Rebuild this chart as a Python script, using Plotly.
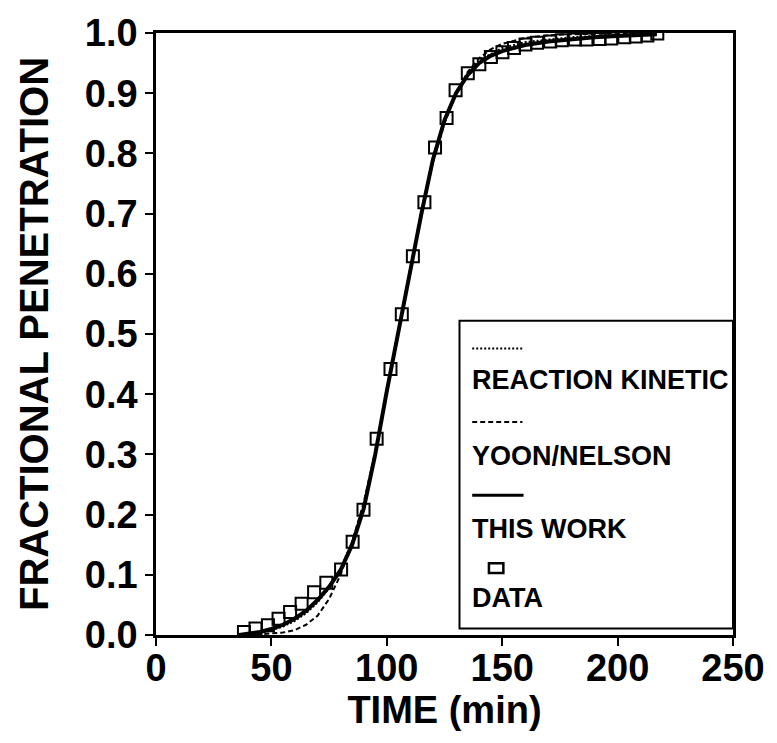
import plotly.graph_objects as go

# ---- data ----
data_t = [38.1, 43.1, 48.5, 53.1, 58.1, 63.1, 68.5, 73.8, 80.2, 85.2, 89.9, 95.6,
          101.6, 106.5, 111.3, 116.3, 120.9, 125.9, 129.8, 135.1, 140.1, 145.1,
          150.1, 155.1, 160.1, 165.1, 170.8, 175.8, 181.5, 186.5, 192.2, 197.2,
          202.9, 207.9, 212.9, 217.2]
data_p = [0.005, 0.011, 0.016, 0.027, 0.038, 0.052, 0.071, 0.087, 0.109, 0.155, 0.208, 0.326,
          0.442, 0.533, 0.629, 0.719, 0.810, 0.859, 0.905, 0.933, 0.948, 0.960,
          0.968, 0.975, 0.981, 0.984, 0.986, 0.988, 0.989, 0.989, 0.990, 0.991,
          0.993, 0.994, 0.996, 0.999]

this_t = [36, 40, 45, 50, 55, 60, 65, 70, 75, 80, 85, 90, 95, 100, 105, 110, 115,
          120, 125, 130, 135, 140, 145, 150, 160, 170, 180, 190, 200, 210, 217]
this_p = [0.000, 0.002, 0.005, 0.010, 0.017, 0.027, 0.040, 0.058, 0.080, 0.108, 0.150,
          0.210, 0.300, 0.405, 0.505, 0.605, 0.700, 0.790, 0.855, 0.900, 0.930, 0.950,
          0.962, 0.970, 0.980, 0.986, 0.990, 0.993, 0.995, 0.997, 0.998]

yoon_t = [40, 45, 50, 55, 60, 65, 70, 75, 80, 85, 90, 95, 100, 105, 110, 115, 120,
          125, 130, 135, 140, 145, 150, 160, 170, 180, 200, 217]
yoon_p = [0.000, 0.001, 0.002, 0.004, 0.008, 0.017, 0.032, 0.060, 0.100, 0.155, 0.220,
          0.305, 0.405, 0.505, 0.605, 0.700, 0.785, 0.850, 0.900, 0.935, 0.958, 0.973,
          0.982, 0.992, 0.996, 0.998, 0.999, 1.000]

rk_t = [38, 45, 50, 55, 60, 65, 70, 75, 80, 85, 90, 95, 100, 105, 110, 115, 120,
        125, 130, 135, 140, 150, 160, 180, 200, 217]
rk_p = [0.001, 0.004, 0.008, 0.014, 0.023, 0.036, 0.054, 0.078, 0.110, 0.155, 0.215,
        0.300, 0.405, 0.505, 0.605, 0.700, 0.790, 0.855, 0.900, 0.932, 0.955, 0.975,
        0.985, 0.993, 0.997, 0.999]

x_ticks = [0, 50, 100, 150, 200, 250]
y_ticks = [0.0, 0.1, 0.2, 0.3, 0.4, 0.5, 0.6, 0.7, 0.8, 0.9, 1.0]
legend_labels = ["REACTION KINETIC", "YOON/NELSON", "THIS WORK", "DATA"]

FONT = "Liberation Sans, Arial, sans-serif"
DASH = "5px,3px"
DOT = "2px,2px"

fig = go.Figure()
fig.add_trace(go.Scatter(x=rk_t, y=rk_p, mode="lines",
                         line=dict(color="black", width=2, dash=DOT),
                         name=legend_labels[0], showlegend=False))
fig.add_trace(go.Scatter(x=yoon_t, y=yoon_p, mode="lines",
                         line=dict(color="black", width=2, dash=DASH),
                         name=legend_labels[1], showlegend=False))
fig.add_trace(go.Scatter(x=this_t, y=this_p, mode="lines",
                         line=dict(color="black", width=4),
                         name=legend_labels[2], showlegend=False))
fig.add_trace(go.Scatter(x=data_t, y=data_p, mode="markers",
                         marker=dict(symbol="square-open", size=12, color="black",
                                     line=dict(width=2, color="black")),
                         name=legend_labels[3], showlegend=False))

# ---- custom legend box (symbol above text, as in the reference) ----
shapes = [
    dict(type="rect", xref="paper", yref="paper", x0=0.526, x1=1.0, y0=0.011, y1=0.522,
         line=dict(color="black", width=2), fillcolor="white", layer="above"),
    dict(type="line", xref="paper", yref="paper", x0=0.548, x1=0.635, y0=0.476, y1=0.476,
         line=dict(color="black", width=2, dash=DOT)),
    dict(type="line", xref="paper", yref="paper", x0=0.548, x1=0.635, y0=0.354, y1=0.354,
         line=dict(color="black", width=2, dash=DASH)),
    dict(type="line", xref="paper", yref="paper", x0=0.548, x1=0.637, y0=0.232, y1=0.232,
         line=dict(color="black", width=3)),
    dict(type="rect", xref="paper", yref="paper", x0=0.577, x1=0.602, y0=0.103, y1=0.119,
         line=dict(color="black", width=2.5)),
]
label_y = [0.424, 0.297, 0.176, 0.062]
annotations = []
for lab, yy in zip(legend_labels, label_y):
    annotations.append(dict(text=lab, xref="paper", yref="paper", x=0.545, y=yy,
                            xanchor="left", yanchor="middle", showarrow=False,
                            font=dict(family=FONT, size=27, color="black", weight="bold")))

fig.update_layout(
    width=777, height=743,
    margin=dict(l=156, r=37, t=22, b=108),
    paper_bgcolor="white", plot_bgcolor="white",
    showlegend=False,
    shapes=shapes, annotations=annotations,
    font=dict(family=FONT, color="black"),
)
fig.update_xaxes(
    range=[0, 250], tickvals=x_ticks, ticktext=[str(v) for v in x_ticks],
    ticks="outside", ticklen=8, tickwidth=2, tickcolor="black",
    ticklabelstandoff=-10,
    showline=True, linewidth=2.5, linecolor="black", mirror=True,
    showgrid=False, zeroline=False,
    tickfont=dict(family=FONT, size=38, color="black", weight="bold"),
    title=dict(text="TIME (min)", standoff=1,
               font=dict(family=FONT, size=38, color="black", weight="bold")),
)
fig.update_yaxes(
    range=[0, 1], tickvals=y_ticks, ticktext=[f"{v:.1f}" for v in y_ticks],
    ticks="outside", ticklen=8, tickwidth=2, tickcolor="black",
    showline=True, linewidth=2.5, linecolor="black", mirror=True,
    showgrid=False, zeroline=False,
    tickfont=dict(family=FONT, size=38, color="black", weight="bold"),
    title=dict(text="FRACTIONAL PENETRATION", standoff=24,
               font=dict(family=FONT, size=40, color="black", weight="bold")),
)

fig.write_html("out.html")
